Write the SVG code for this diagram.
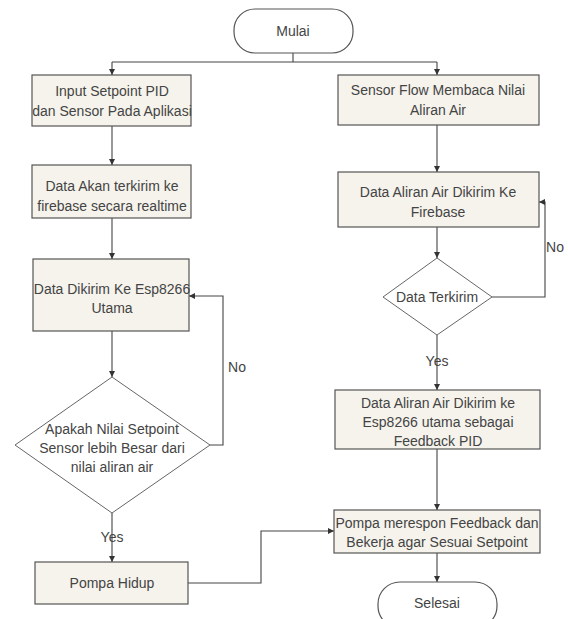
<svg xmlns="http://www.w3.org/2000/svg" width="568" height="619" viewBox="0 0 568 619">
<defs>
<marker id="ah" viewBox="0 0 8 8" refX="8" refY="4" markerWidth="6" markerHeight="6" orient="auto" markerUnits="userSpaceOnUse">
<path d="M0,0 L8,4 L0,8 z" fill="#333"/>
</marker>
<style>
.box{fill:#f5f3ec;stroke:#555;stroke-width:1.2}
.term{fill:#fff;stroke:#555;stroke-width:1.2}
.dia{fill:#fff;stroke:#666;stroke-width:1}
.t{font-family:"Liberation Sans",Arial,sans-serif;font-size:14px;fill:#444;text-anchor:middle}
.c{fill:none;stroke:#444;stroke-width:1.1}
</style>
</defs>
<rect width="568" height="619" fill="#fff"/>
<g id="connectors">
<path class="c" d="M293,52 V62 M112,62 H437"/>
<path class="c" d="M112,62 V75" marker-end="url(#ah)"/>
<path class="c" d="M437,62 V75" marker-end="url(#ah)"/>
<path class="c" d="M112,126 V165" marker-end="url(#ah)"/>
<path class="c" d="M112,218 V259" marker-end="url(#ah)"/>
<path class="c" d="M112,331 V377" marker-end="url(#ah)"/>
<path class="c" d="M210,445 H223 V296 H189" marker-end="url(#ah)"/>
<path class="c" d="M112,513 V562" marker-end="url(#ah)"/>
<path class="c" d="M188,583 H261 V531 H334" marker-end="url(#ah)"/>
<path class="c" d="M437,125 V172" marker-end="url(#ah)"/>
<path class="c" d="M437,227 V258" marker-end="url(#ah)"/>
<path class="c" d="M492,297 H545 V202 H539" marker-end="url(#ah)"/>
<path class="c" d="M437,335 V390" marker-end="url(#ah)"/>
<path class="c" d="M437,449 V510" marker-end="url(#ah)"/>
<path class="c" d="M437,553 V582" marker-end="url(#ah)"/>
<text class="t" x="237" y="372">No</text>
<text class="t" x="555" y="252">No</text>
<text class="t" x="112" y="542">Yes</text>
<text class="t" x="437" y="366">Yes</text>
</g>
<g id="mulai">
<rect class="term" x="234" y="9" width="119" height="44" rx="21" ry="21"/>
<text class="t" x="293" y="36">Mulai</text>
</g>
<g id="input">
<rect class="box" x="32" y="75" width="159" height="51"/>
<text class="t" x="112" y="96">Input Setpoint PID</text>
<text class="t" x="112" y="116">dan Sensor Pada Aplikasi</text>
</g>
<g id="firebase1">
<rect class="box" x="32" y="165" width="159" height="53"/>
<text class="t" x="112" y="191">Data Akan terkirim ke</text>
<text class="t" x="112" y="211">firebase secara realtime</text>
</g>
<g id="esp1">
<rect class="box" x="33" y="259" width="156" height="72"/>
<text class="t" x="112" y="294">Data Dikirim Ke Esp8266</text>
<text class="t" x="112" y="313">Utama</text>
</g>
<g id="cek">
<polygon class="dia" points="112,377 210,445 112,513 15,445"/>
<text class="t" x="112" y="434">Apakah Nilai Setpoint</text>
<text class="t" x="112" y="453">Sensor lebih Besar dari</text>
<text class="t" x="112" y="472">nilai aliran air</text>
</g>
<g id="hidup">
<rect class="box" x="35" y="562" width="153" height="42"/>
<text class="t" x="112" y="588">Pompa Hidup</text>
</g>
<g id="sensor">
<rect class="box" x="338" y="75" width="201" height="50"/>
<text class="t" x="438" y="95">Sensor Flow Membaca Nilai</text>
<text class="t" x="438" y="115">Aliran Air</text>
</g>
<g id="firebase2">
<rect class="box" x="338" y="172" width="201" height="55"/>
<text class="t" x="438" y="197">Data Aliran Air Dikirim Ke</text>
<text class="t" x="438" y="217">Firebase</text>
</g>
<g id="terkirim">
<polygon class="dia" points="437,258 492,297 437,335 383,297"/>
<text class="t" x="437" y="302">Data Terkirim</text>
</g>
<g id="esp2">
<rect class="box" x="335" y="390" width="205" height="59"/>
<text class="t" x="438" y="408">Data Aliran Air Dikirim ke</text>
<text class="t" x="438" y="427">Esp8266 utama sebagai</text>
<text class="t" x="438" y="446">Feedback PID</text>
</g>
<g id="respon">
<rect class="box" x="334" y="510" width="206" height="43"/>
<text class="t" x="437" y="528">Pompa merespon Feedback dan</text>
<text class="t" x="437" y="547">Bekerja agar Sesuai Setpoint</text>
</g>
<g id="selesai">
<rect class="term" x="378" y="582" width="119" height="46" rx="22" ry="22"/>
<text class="t" x="437" y="608">Selesai</text>
</g>
</svg>
